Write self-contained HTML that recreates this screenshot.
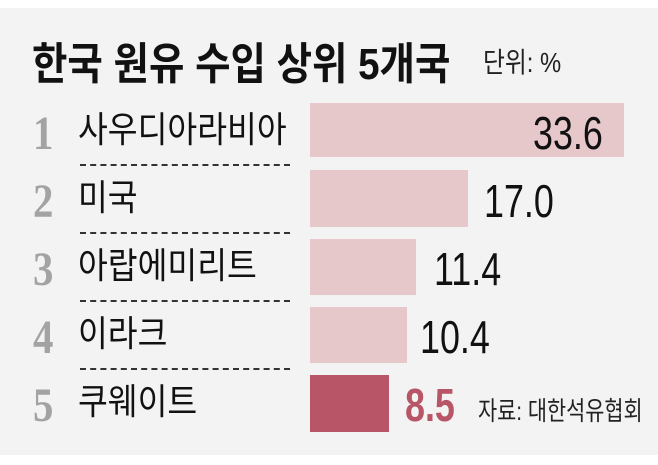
<!DOCTYPE html>
<html><head><meta charset="utf-8"><style>
body{margin:0;width:658px;height:465px;background:#fff;overflow:hidden;position:relative;font-family:"Liberation Sans","Noto Sans CJK KR",sans-serif}
.bg{position:absolute;left:0;top:8px;width:658px;height:447px;background:#f3f3f3}
.t{position:absolute;white-space:nowrap;color:#111}
.n{position:absolute;left:33px;font-family:"Liberation Serif",serif;font-weight:bold;font-size:48px;color:#a3a3a3;line-height:1;transform:scaleX(0.85);transform-origin:left}
.l{position:absolute;left:78px;font-size:36px;line-height:1;color:#111;transform:scaleX(0.9);transform-origin:left;white-space:nowrap}
.b{position:absolute;left:310px;background:#e6c8cb}
.v{position:absolute;font-size:46px;line-height:1;color:#111;transform:scaleX(0.78);transform-origin:left}
.d{position:absolute;left:80px;width:210px;border-top:2px dashed #333}
</style></head><body>
<div class="bg"></div>
<div class="t" style="left:32px;top:28px;font-size:44px;font-weight:bold;transform:scaleX(0.875);transform-origin:left">한국 원유 수입 상위 5개국</div>
<div class="t" style="left:483px;top:41px;font-size:28px;color:#222;transform:scaleX(0.85);transform-origin:left">단위: %</div>

<div class="b" style="top:103px;width:314px;height:54px"></div>
<div class="b" style="top:170px;width:158px;height:57px"></div>
<div class="b" style="top:239px;width:106px;height:56px"></div>
<div class="b" style="top:307px;width:97px;height:56px"></div>
<div class="b" style="top:375px;width:79px;height:57px;background:#b85566"></div>

<div class="n" style="top:110px">1</div><div class="l" style="top:112px">사우디아라비아</div>
<div class="n" style="top:178px">2</div><div class="l" style="top:180px">미국</div>
<div class="n" style="top:246px">3</div><div class="l" style="top:248px">아랍에미리트</div>
<div class="n" style="top:314px">4</div><div class="l" style="top:316px">이라크</div>
<div class="n" style="top:382px">5</div><div class="l" style="top:384px">쿠웨이트</div>

<div class="d" style="top:164px"></div>
<div class="d" style="top:232px"></div>
<div class="d" style="top:300px"></div>
<div class="d" style="top:368px"></div>

<div class="v" style="left:533px;top:110px">33.6</div>
<div class="v" style="left:484px;top:178px">17.0</div>
<div class="v" style="left:434px;top:246px">11.4</div>
<div class="v" style="left:420px;top:314px">10.4</div>
<div class="v" style="left:405px;top:382px;font-weight:bold;color:#b85566">8.5</div>
<div class="t" style="left:478px;top:391px;font-size:26px;color:#222;transform:scaleX(0.8);transform-origin:left">자료: 대한석유협회</div>
</body></html>
